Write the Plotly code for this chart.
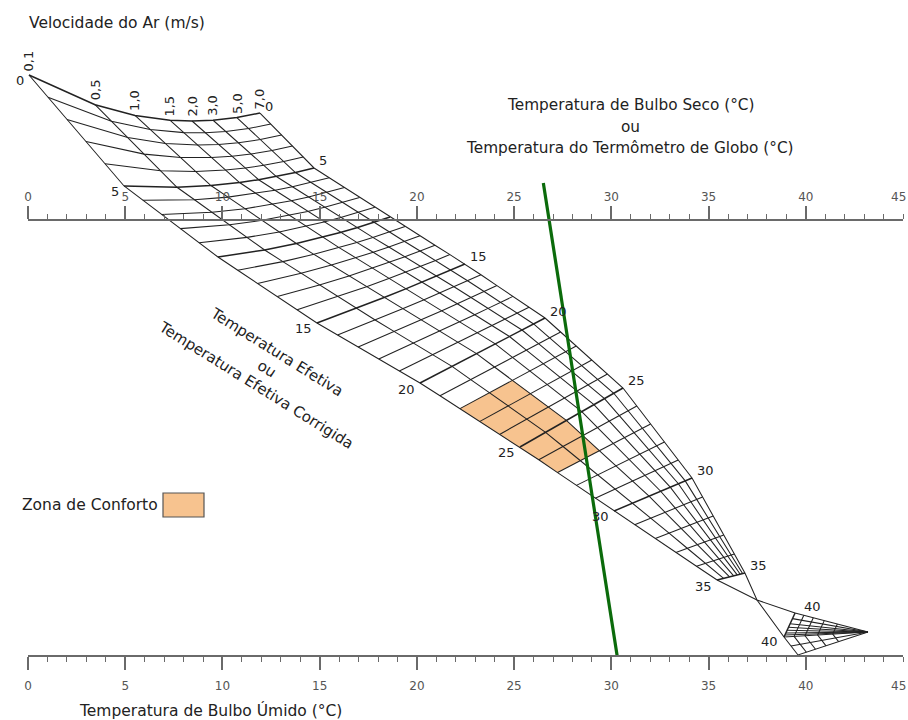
import numpy as np
import plotly.graph_objects as go

# ---------------- data ----------------
SCALE_MINOR = list(range(0, 46))
SCALE_MAJOR = list(range(0, 46, 5))
SCALE_TEXT = [str(v) for v in SCALE_MAJOR]

VELOCITY_LABELS = ["0,1", "0,5", "1,0", "1,5", "2,0", "3,0", "5,0", "7,0"]
VEL_FRAC_TOP = [0.0, 0.286, 0.459, 0.610, 0.706, 0.797, 0.900, 1.0]
VEL_FRAC_LOW = [0.0, 0.234, 0.447, 0.596, 0.723, 0.830, 0.915, 1.0]

# effective-temperature nodes: x in degC of the scales, y = height (bottom scale 0, top scale 100)
ET_NODES = [0, 5, 10, 15, 20, 25, 30, 35]
LEFT_T = [0.05, 4.94, 9.77, 14.86, 20.16, 25.30, 30.14, 35.44]
LEFT_H = [133.26, 107.80, 91.51, 76.38, 62.61, 47.94, 33.26, 17.43]
RIGHT_T = [11.93, 14.71, 18.62, 22.47, 26.59, 30.60, 34.15, 36.87]
RIGHT_H = [124.54, 111.93, 100.69, 89.91, 77.52, 61.47, 40.83, 19.04]
ROW_SAG = [5.3, 1.8, 1.1, 0.3, 0.0, 0.0, 0.0, 0.0]
LEFT_LABELS = [0, 5, 15, 20, 25, 30, 35]
RIGHT_LABELS = [0, 5, 15, 20, 25, 30, 35]

# high-temperature region (beyond the crossing of the velocity lines)
CROSS = (37.49, 12.84)
ET40_UP = (39.45, 9.86)
ET40_LOW = (38.88, 4.36)
FAN_BOTTOM = (39.60, 0.23)
FAN_TIP = (43.20, 5.50)
FAN_ROWS = [0.12, 0.25, 0.40, 0.58]

COMFORT_ET = (22, 27)
COMFORT_VEL = (0, 2)

EXAMPLE_TBS = 26.8   # top scale
EXAMPLE_TBU = 30.3   # bottom scale
EXAMPLE_TOP_H = 108.5

# ---------------- geometry ----------------
def row(et):
    lt = np.interp(et, ET_NODES, LEFT_T); lh = np.interp(et, ET_NODES, LEFT_H)
    rt = np.interp(et, ET_NODES, RIGHT_T); rh = np.interp(et, ET_NODES, RIGHT_H)
    sag = np.interp(et, ET_NODES, ROW_SAG)
    w = et / 35.0
    xs, ys = [], []
    for ft, fl in zip(VEL_FRAC_TOP, VEL_FRAC_LOW):
        f = ft * (1 - w) + fl * w
        xs.append(lt + f * (rt - lt))
        ys.append(lh + f * (rh - lh) - sag * 4 * f * (1 - f))
    return xs, ys

ets = list(range(0, 36))
rows = {e: row(e) for e in ets}

fig = go.Figure()

# comfort zone polygon
e0, e1 = COMFORT_ET
v0, v1 = COMFORT_VEL
px, py = [], []
for e in range(e0, e1 + 1):
    px.append(rows[e][0][v0]); py.append(rows[e][1][v0])
for v in range(v0, v1 + 1):
    px.append(rows[e1][0][v]); py.append(rows[e1][1][v])
for e in range(e1, e0 - 1, -1):
    px.append(rows[e][0][v1]); py.append(rows[e][1][v1])
for v in range(v1, v0 - 1, -1):
    px.append(rows[e0][0][v]); py.append(rows[e0][1][v])
fig.add_trace(go.Scatter(x=px, y=py, fill="toself", fillcolor="#F7C38F",
                         line=dict(width=0), mode="lines", hoverinfo="skip"))

LC = "#222222"
THIN, THICK = 1.05, 1.5
# ET rows
for width, sel in [(THIN, lambda e: e % 5 != 0), (THICK, lambda e: e % 5 == 0)]:
    xs, ys = [], []
    for e in ets:
        if sel(e):
            xs += rows[e][0] + [None]; ys += rows[e][1] + [None]
    fig.add_trace(go.Scatter(x=xs, y=ys, mode="lines", line=dict(color=LC, width=width),
                             hoverinfo="skip"))
# velocity lines
xs, ys = [], []
for v in range(len(VELOCITY_LABELS)):
    xs += [rows[e][0][v] for e in ets] + [None]
    ys += [rows[e][1][v] for e in ets] + [None]
# boundaries to the crossing
xs += [rows[35][0][0], CROSS[0], ET40_UP[0], None]
ys += [rows[35][1][0], CROSS[1], ET40_UP[1], None]
xs += [rows[35][0][-1], CROSS[0], ET40_LOW[0], FAN_BOTTOM[0], FAN_TIP[0], None]
ys += [rows[35][1][-1], CROSS[1], ET40_LOW[1], FAN_BOTTOM[1], FAN_TIP[1], None]

# fan: starting points along ET40 row (velocity fractions) and its continuation to the bottom
starts = []
for f in VEL_FRAC_LOW:
    starts.append((ET40_UP[0] + f * (ET40_LOW[0] - ET40_UP[0]),
                   ET40_UP[1] + f * (ET40_LOW[1] - ET40_UP[1])))
for f in (0.5,):
    starts.append((ET40_LOW[0] + f * (FAN_BOTTOM[0] - ET40_LOW[0]),
                   ET40_LOW[1] + f * (FAN_BOTTOM[1] - ET40_LOW[1])))
for sx, sy in starts:
    xs += [sx, FAN_TIP[0], None]; ys += [sy, FAN_TIP[1], None]
allstarts = starts + [FAN_BOTTOM]
for t in FAN_ROWS:
    xs += [sx + t * (FAN_TIP[0] - sx) for sx, sy in allstarts] + [None]
    ys += [sy + t * (FAN_TIP[1] - sy) for sx, sy in allstarts] + [None]
fig.add_trace(go.Scatter(x=xs, y=ys, mode="lines", line=dict(color=LC, width=THIN),
                         hoverinfo="skip"))
# ET 40 row
fig.add_trace(go.Scatter(x=[ET40_UP[0], ET40_LOW[0]], y=[ET40_UP[1], ET40_LOW[1]], mode="lines",
                         line=dict(color=LC, width=THICK), hoverinfo="skip"))

# example line
fig.add_trace(go.Scatter(
    x=[EXAMPLE_TBU, EXAMPLE_TBU + (EXAMPLE_TBS - EXAMPLE_TBU) * EXAMPLE_TOP_H / 100],
    y=[0, EXAMPLE_TOP_H], mode="lines", line=dict(color="#0B6B0B", width=3.2), hoverinfo="skip"))

# dummy trace for top scale
fig.add_trace(go.Scatter(x=[0, 45], y=[None, None], xaxis="x2", yaxis="y", showlegend=False))

ann = []
lab_font = dict(family="DejaVu Sans", size=13, color="#222")
for e in LEFT_LABELS:
    ann.append(dict(x=rows[e][0][0], y=rows[e][1][0], text=str(e), showarrow=False,
                    xanchor="right", yanchor="middle", xshift=-3, yshift=-6, font=lab_font))
for e in RIGHT_LABELS:
    ann.append(dict(x=rows[e][0][-1], y=rows[e][1][-1], text=str(e), showarrow=False,
                    xanchor="left", yanchor="middle", xshift=3, yshift=7, font=lab_font))
ann.append(dict(x=ET40_UP[0], y=ET40_UP[1], text="40", showarrow=False, xanchor="left",
                yanchor="middle", xshift=7, yshift=7, font=lab_font))
ann.append(dict(x=ET40_LOW[0], y=ET40_LOW[1], text="40", showarrow=False, xanchor="right",
                yanchor="middle", xshift=-4, yshift=-5, font=lab_font))
for v, t in enumerate(VELOCITY_LABELS):
    ann.append(dict(x=rows[0][0][v], y=rows[0][1][v], text=t, showarrow=False, textangle=-90,
                    xanchor="center", yanchor="bottom", yshift=2, font=lab_font))

def ptext(x, y, text, size, anchor="center", angle=0, color="#222", family="DejaVu Sans"):
    return dict(x=x / 908, y=1 - y / 720, xref="paper", yref="paper", text=text, showarrow=False,
                xanchor=anchor, yanchor="middle", align="center", textangle=angle,
                font=dict(family=family, size=size, color=color))

ann.append(ptext(27, 23, "Velocidade do Ar (m/s)", 15.5, "left"))
ann.append(ptext(630, 105, "Temperatura de Bulbo Seco (°C)", 15.3))
ann.append(ptext(630, 127, "ou", 15.3))
ann.append(ptext(630, 148, "Temperatura do Termômetro de Globo (°C)", 15.3))
ann.append(ptext(210, 710, "Temperatura de Bulbo Úmido (°C)", 15.5))
ann.append(ptext(266, 369, "Temperatura Efetiva<br>ou<br>Temperatura Efetiva Corrigida", 15, angle=32))
ann.append(ptext(20, 505, "Zona de Conforto", 15.5, "left"))
# last scale labels, kept inside the page
ann.append(ptext(908, 197, SCALE_TEXT[-1], 12, "right", color="#555"))
ann.append(ptext(908, 686, SCALE_TEXT[-1], 12, "right", color="#555"))

shapes = [dict(type="rect", xref="paper", yref="paper", x0=163 / 908, x1=204 / 908,
               y0=1 - 517 / 720, y1=1 - 493 / 720, fillcolor="#F7C38F",
               line=dict(color="#555", width=1.2))]

axis_text = SCALE_TEXT[:-1] + [""]
axis_common = dict(range=[0, 45], domain=[28 / 908, 903 / 908], showgrid=False, zeroline=False,
                   showline=True, linecolor="#6a6a6a", linewidth=1.6, ticks="outside",
                   ticklen=13, tickwidth=1.5, tickcolor="#6a6a6a", tickvals=SCALE_MAJOR,
                   ticktext=axis_text, tickfont=dict(family="DejaVu Sans", size=12, color="#555"),
                   minor=dict(tickvals=SCALE_MINOR, ticklen=5, tickwidth=1.3, tickcolor="#6a6a6a",
                              ticks="outside"),
                   anchor="free", automargin=False, fixedrange=True)

fig.update_layout(
    width=908, height=720, margin=dict(l=0, r=0, t=0, b=0),
    paper_bgcolor="white", plot_bgcolor="rgba(0,0,0,0)", showlegend=False,
    xaxis=dict(**axis_common, position=1 - 656 / 720, side="bottom", ticklabelstandoff=6),
    xaxis2=dict(**axis_common, position=1 - 220 / 720, side="top", overlaying="x"),
    yaxis=dict(range=[(656 - 720) / 4.36, 656 / 4.36], domain=[0, 1], visible=False,
               fixedrange=True),
    annotations=ann, shapes=shapes,
)
fig.write_html("out.html")
